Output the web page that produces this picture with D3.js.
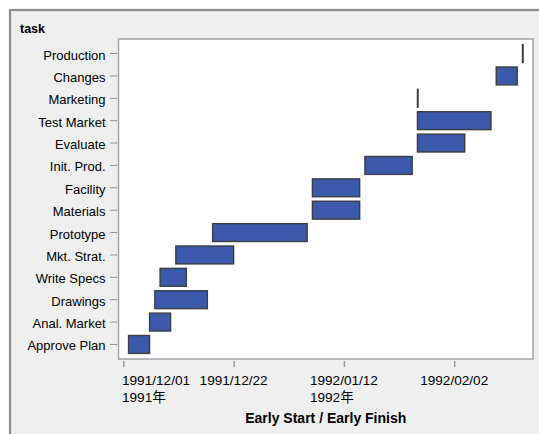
<!DOCTYPE html>
<html>
<head>
<meta charset="utf-8">
<script src="https://cdn.jsdelivr.net/npm/d3@7"></script>
<style>
  html, body { margin: 0; padding: 0; background: #ffffff; }
  svg { display: block; }
  text { font-family: "Liberation Sans", Arial, "Noto Sans CJK JP", sans-serif; fill: #000; }
</style>
</head>
<body>
<svg id="chart" width="539" height="434"></svg>
<script>
// ---- data ----
const tasks = ["Production","Changes","Marketing","Test Market","Evaluate","Init. Prod.","Facility","Materials","Prototype","Mkt. Strat.","Write Specs","Drawings","Anal. Market","Approve Plan"];
const earlyStart  = ["1992-02-15","1992-02-10","1992-01-26","1992-01-26","1992-01-26","1992-01-16","1992-01-06","1992-01-06","1991-12-18","1991-12-11","1991-12-08","1991-12-07","1991-12-06","1991-12-02"];
const earlyFinish = ["1992-02-15","1992-02-14","1992-01-26","1992-02-09","1992-02-04","1992-01-25","1992-01-15","1992-01-15","1992-01-05","1991-12-22","1991-12-13","1991-12-17","1991-12-10","1991-12-06"];
const tickDates  = ["1991-12-01","1991-12-22","1992-01-12","1992-02-02"];
const tickLabels = ["1991/12/01","1991/12/22","1992/01/12","1992/02/02"];
const yearLabels = ["1991年","","1992年",""];
const yTitle = "task";
const xTitle = "Early Start / Early Finish";

// ---- layout ----
const W = 539, H = 434;
const plot = { left: 118.5, right: 533, top: 39, bottom: 359 };
const parse = d3.timeParse("%Y-%m-%d");
const rows = tasks.map((t, i) => ({ task: t, start: parse(earlyStart[i]), finish: parse(earlyFinish[i]) }));

const svg = d3.select("#chart");

// outer panel
svg.append("rect")
  .attr("x", 10).attr("y", 10).attr("width", W + 20).attr("height", H + 20)
  .attr("fill", "#efefef").attr("stroke", "#8c8c8c").attr("stroke-width", 2.2);

// scales
const x = d3.scaleTime()
  .domain([new Date(1991, 10, 30, 2), new Date(1992, 1, 17)])
  .range([plot.left, plot.right]);
const y = d3.scaleBand()
  .domain(tasks)
  .range([plot.top, plot.bottom])
  .paddingInner(0.2)
  .paddingOuter(0.25);

// plot background
svg.append("rect")
  .attr("x", plot.left).attr("y", plot.top)
  .attr("width", plot.right - plot.left).attr("height", plot.bottom - plot.top)
  .attr("fill", "#ffffff").attr("stroke", "#a3a3a3").attr("stroke-width", 1.5);

// y axis (ticks offset from the frame)
const yAxis = d3.axisLeft(y).tickSize(7).tickPadding(4.5);
const gy = svg.append("g").attr("transform", `translate(${plot.left - 1.5},0)`).call(yAxis);
gy.select(".domain").remove();
gy.selectAll(".tick line").attr("stroke", "#8f8f8f");
gy.selectAll(".tick text")
  .style("font-size", "13px")
  .attr("dy", "0.46em")
  .attr("fill", "#000");

// x axis
const tickVals = tickDates.map(parse);
const xAxis = d3.axisBottom(x).tickValues(tickVals).tickSize(6).tickFormat("");
const gx = svg.append("g").attr("transform", `translate(0,${plot.bottom + 2})`).call(xAxis);
gx.select(".domain").remove();
gx.selectAll(".tick line").attr("stroke", "#9a9a9a").attr("stroke-width", 1.5);

const lab = svg.append("g");
tickVals.forEach((d, i) => {
  const tx = x(d);
  const t1 = lab.append("text")
    .attr("y", 385)
    .style("font-size", "13.6px")
    .text(tickLabels[i]);
  const w = t1.node().getComputedTextLength();
  const left = i === 0 ? tx - 1.3 : tx - w / 2;
  t1.attr("x", left);
  if (yearLabels[i]) {
    lab.append("text")
      .attr("x", left).attr("y", 401.5)
      .style("font-size", "13.6px")
      .text(yearLabels[i]);
  }
});

// bars
svg.append("g").selectAll("rect")
  .data(rows)
  .join("rect")
  .attr("x", d => x(d.start))
  .attr("y", d => y(d.task))
  .attr("width", d => Math.max(0.6, x(d.finish) - x(d.start)))
  .attr("height", y.bandwidth())
  .attr("fill", "#3a59ab")
  .attr("stroke", "#3d3d45")
  .attr("stroke-width", 1.4);

// titles
svg.append("text")
  .attr("x", 20).attr("y", 33)
  .style("font-size", "12.5px").style("font-weight", "bold")
  .text(yTitle);

svg.append("text")
  .attr("x", (plot.left + plot.right) / 2).attr("y", 423)
  .attr("text-anchor", "middle")
  .style("font-size", "14px").style("font-weight", "bold")
  .text(xTitle);
</script>
</body>
</html>
